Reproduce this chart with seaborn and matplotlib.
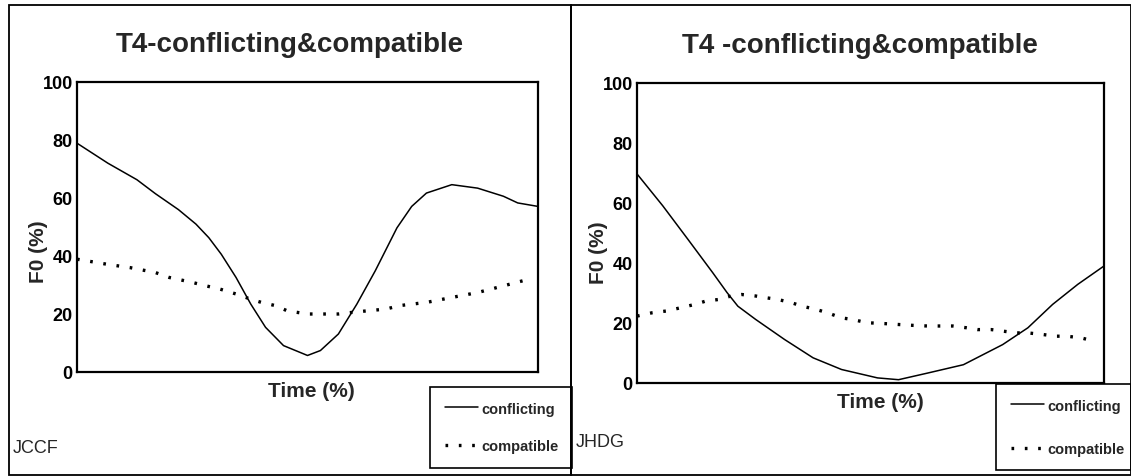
import matplotlib
matplotlib.use("Agg")
import matplotlib.pyplot as plt
from matplotlib.patches import Rectangle
import seaborn as sns

# JCCF panel (left)
jccf_conf_time = [0, 6.7, 13, 17, 22, 25.8, 28.6, 31.3, 34.5, 37.7, 40.9, 44.8, 50,
                  52.8, 56.7, 60.7, 64.7, 69.4, 72.6, 75.8, 81.3, 86.9, 92.5, 95.6, 100]
jccf_conf = [78.9, 72, 66.3, 61.5, 56, 51, 46.3, 40.6, 32.6, 23.4, 15.4, 9.1, 5.7,
             7.4, 13.1, 23.4, 34.9, 49.7, 57.1, 61.7, 64.6, 63.4, 60.6, 58.3, 57.1]
jccf_comp_time = [0, 6.7, 11.5, 17, 20, 25, 28, 31, 34.5, 37.7, 40, 43, 45.6, 50,
                  53.6, 56.7, 59.9, 63, 67, 70, 75.8, 81.3, 86.9, 92.5, 98]
jccf_comp = [38.9, 37.1, 36, 34.3, 32.6, 30.9, 29.7, 28.6, 26.9, 25.1, 24, 22.9, 21.1, 20,
             20, 20, 20.6, 21.1, 21.7, 22.9, 24, 25.7, 27.4, 29.7, 32]

# JHDG panel (right)
jhdg_conf_time = [0, 5.5, 10.9, 16.2, 19.3, 21.6, 25.4, 31.6, 37.7, 43.8, 51.5, 56,
                  62.2, 69.9, 78.3, 83.7, 89, 94.4, 100]
jhdg_conf = [69.7, 59.1, 47.9, 36.8, 30.1, 25.6, 21.2, 14.5, 8.4, 4.5, 1.7, 1.1,
             3.3, 6.1, 12.8, 18.4, 26.2, 32.9, 39]
jhdg_comp_time = [0, 3.2, 6.3, 9.4, 12.4, 14.7, 17.8, 20.1, 22.4, 25.4, 27.7, 30,
                  33, 35.4, 38.4, 40.8, 43.8, 46.1, 49.2, 53, 56, 59.2, 62.2, 65.3,
                  67.6, 70.6, 72.9, 75.9, 78.3, 81.3, 83.7, 86.7, 89.8, 92.1, 95.2, 98]
jhdg_comp = [22.3, 23.4, 24, 25.1, 26.2, 27.3, 27.9, 29, 29.5, 29, 28.4, 27.9,
             26.8, 25.6, 24.5, 23.4, 21.7, 21.2, 20.1, 19.8, 19.5, 19.2, 19, 19,
             19, 18.4, 17.8, 17.8, 17.3, 16.7, 16.7, 16.2, 15.6, 15.6, 15, 13.9]

y_ticks = [0, 20, 40, 60, 80, 100]

W, H = 1131, 477
sns.set_theme(style="white")
plt.rcParams["font.family"] = ["Liberation Sans Narrow", "Liberation Sans", "DejaVu Sans"]

fig = plt.figure(figsize=(W / 100, H / 100), dpi=100)
fig.patch.set_facecolor("white")

DOT = (0, (0.8, 3.2))

panels = [
    dict(name="JCCF", title="T4-conflicting&compatible",
         ax=(77, 83, 538, 373), title_xy=(290, 45), xlab_xy=(311, 392), ylab_xy=(39, 252),
         leg=(430, 388, 142, 79), leg_space=1.6, name_xy=(13, 449),
         conf=(jccf_conf_time, jccf_conf), comp=(jccf_comp_time, jccf_comp)),
    dict(name="JHDG", title="T4 -conflicting&compatible",
         ax=(637, 84, 1104, 384), title_xy=(860, 46), xlab_xy=(880, 402), ylab_xy=(598, 253),
         leg=(996, 385, 135, 85), leg_space=2.0, name_xy=(576, 443),
         conf=(jhdg_conf_time, jhdg_conf), comp=(jhdg_comp_time, jhdg_comp)),
]

for p in panels:
    x0, y0, x1, y1 = p["ax"]
    ax = fig.add_axes([x0 / W, 1 - y1 / H, (x1 - x0) / W, (y1 - y0) / H])
    sns.lineplot(x=p["conf"][0], y=p["conf"][1], ax=ax, color="black", lw=1.1,
                 label="conflicting")
    sns.lineplot(x=p["comp"][0], y=p["comp"][1], ax=ax, color="black", lw=2.4,
                 linestyle=DOT, label="compatible")
    ax.set_xlim(0, 100)
    ax.set_ylim(0, 100)
    ax.set_yticks(y_ticks)
    ax.set_xticks([])
    ax.tick_params(axis="y", length=2, pad=1, labelsize=13, colors="black")
    for t in ax.get_yticklabels():
        t.set_fontweight("bold")
    ax.set_xlabel("")
    ax.set_ylabel("")
    for s in ax.spines.values():
        s.set_color("black")
        s.set_linewidth(1.6)

    lx, ly, lw, lh = p["leg"]
    leg = ax.legend(loc="upper left", bbox_to_anchor=(lx / W, 1 - (ly + lh) / H, lw / W, lh / H),
                    bbox_transform=fig.transFigure, mode="expand", frameon=True,
                    fancybox=False, framealpha=1, edgecolor="black", handlelength=2.3,
                    handletextpad=0.2, labelspacing=p["leg_space"], borderpad=1.0,
                    borderaxespad=0, prop={"size": 10.5, "weight": "bold"})
    leg.get_frame().set_linewidth(1.2)

    tx, ty = p["title_xy"]
    fig.text(tx / W, 1 - ty / H, p["title"], ha="center", va="center",
             fontsize=20, fontweight="bold")
    xx, xy = p["xlab_xy"]
    fig.text(xx / W, 1 - xy / H, "Time (%)", ha="center", va="center",
             fontsize=15, fontweight="bold")
    yx, yy = p["ylab_xy"]
    fig.text(yx / W, 1 - yy / H, "F0 (%)", ha="center", va="center", rotation=90,
             fontsize=15, fontweight="bold")
    nx, ny = p["name_xy"]
    fig.text(nx / W, 1 - ny / H, p["name"], ha="left", va="center", fontsize=13,
             family=["Liberation Sans", "DejaVu Sans"])

# outer panel frames
for (fx0, fx1) in [(9, 571), (571, 1131)]:
    fig.add_artist(Rectangle((fx0 / W, 1 - 476 / H), (fx1 - fx0) / W, (476 - 6) / H,
                             transform=fig.transFigure, fill=False, edgecolor="black", lw=1.3))

fig.savefig("out.png", dpi=100, facecolor="white")
